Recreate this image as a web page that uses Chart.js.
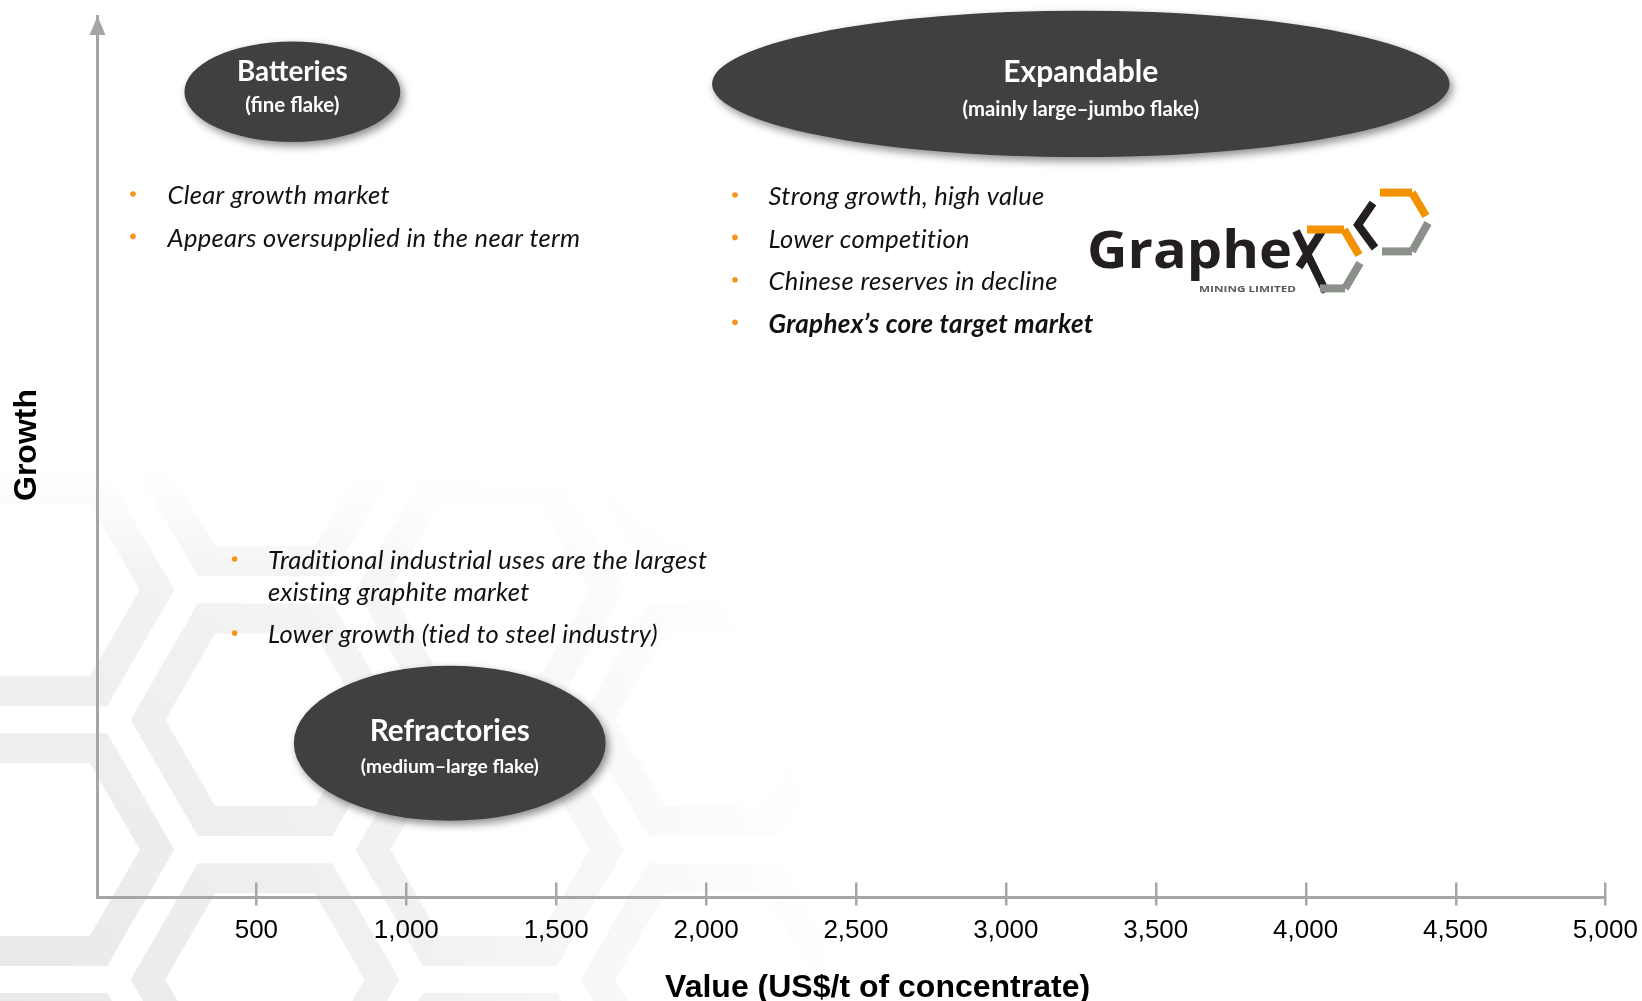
<!DOCTYPE html>
<html>
<head>
<meta charset="utf-8">
<title>Graphite markets: value vs growth</title>
<script src="https://cdn.jsdelivr.net/npm/chart.js@4/dist/chart.umd.min.js"></script>
<style>
  html, body { margin: 0; padding: 0; background: #ffffff; }
  #wrap { width: 1642px; height: 1001px; position: relative; }
</style>
</head>
<body>
<div id="wrap"><canvas id="chart" width="1642" height="1001"></canvas></div>
<script>
// ---- Data -------------------------------------------------------------
// Graphite end-markets positioned by value (US$/t of concentrate) and growth
const markets      = ['Batteries', 'Expandable', 'Refractories'];
const flakeTypes   = ['(fine flake)', '(mainly large\u2013jumbo flake)', '(medium\u2013large flake)'];
const valueLow     = [260, 2020, 625];
const valueHigh    = [980, 4480, 1665];
const growthLow    = [85.7, 84.0, 8.7];
const growthHigh   = [97.1, 100.6, 26.3];

const valueTicks      = [500, 1000, 1500, 2000, 2500, 3000, 3500, 4000, 4500, 5000];
const valueTickLabels = ['500', '1,000', '1,500', '2,000', '2,500', '3,000', '3,500', '4,000', '4,500', '5,000'];

const batteryNotes    = ['Clear growth market', 'Appears oversupplied in the near term'];
const expandableNotes = ['Strong growth, high value', 'Lower competition', 'Chinese reserves in decline', 'Graphex\u2019s core target market'];
const refractoryNotes = ['Traditional industrial uses are the largest\nexisting graphite market', 'Lower growth (tied to steel industry)'];

const xTitle = 'Value (US$/t of concentrate)';
const yTitle = 'Growth';

// ---- Styling / layout -------------------------------------------------
const AXIS_GREY   = '#a6a6a6';
const SHAPE_FILL  = '#404040';
const BULLET_ORNG = '#f7941d';
const NOTE_FONT   = 'italic 25.5px Lato';
const NOTE_BOLD   = 'italic bold 26px Lato';
const AXIS_FONT   = '"Liberation Sans", Arial, sans-serif';

// label offsets (px) from each shape centre, and font sizes
const shapeText = [
  { title: -20, sub: 14, tSize: 27.8, sSize: 20.4 },
  { title: -12, sub: 26, tSize: 30,   sSize: 20.3 },
  { title: -12, sub: 24, tSize: 29.7, sSize: 19.2 }
];

// note blocks: bullet x, text x, first line y, and which note is bold
const noteBlocks = [
  { notes: batteryNotes,    bx: 133,   tx: 167.5, y: 196,   bold: -1 },
  { notes: expandableNotes, bx: 735,   tx: 768.6, y: 197,   bold: 3 },
  { notes: refractoryNotes, bx: 234.6, tx: 268,   y: 561,   bold: -1 }
];
const NOTE_STEP = 42.4;
const LINE_STEP = 31.7;

// ---- Drawing helpers --------------------------------------------------
function hexPath(c, cx, cy, r) {
  c.beginPath();
  for (let k = 0; k < 6; k++) {
    const a = Math.PI / 3 * k;
    const px = cx + r * Math.cos(a), py = cy + r * Math.sin(a);
    if (k === 0) c.moveTo(px, py); else c.lineTo(px, py);
  }
  c.closePath();
}

// faint honeycomb watermark in the lower-left corner
function drawWatermark(ctx, W, H) {
  const off = document.createElement('canvas');
  off.width = W; off.height = H;
  const o = off.getContext('2d');
  o.strokeStyle = '#000';
  o.lineWidth = 30;
  o.lineJoin = 'miter';
  const R = 150, s3 = Math.sqrt(3);
  for (let i = -1; i < 8; i++) {
    for (let j = -1; j < 8; j++) {
      const cx = i * 1.5 * R + 40;
      const cy = j * s3 * R + (Math.abs(i) % 2 ? s3 / 2 * R : 0) + 330;
      hexPath(o, cx, cy, R * 0.78);
      o.stroke();
    }
  }
  o.globalCompositeOperation = 'destination-in';
  const g = o.createRadialGradient(0, H, 0, 0, H, 840);
  g.addColorStop(0, 'rgba(0,0,0,0.085)');
  g.addColorStop(0.5, 'rgba(0,0,0,0.055)');
  g.addColorStop(1, 'rgba(0,0,0,0)');
  o.fillStyle = g;
  o.fillRect(0, 0, W, H);
  // fade out above the lower half
  const v = o.createLinearGradient(0, 470, 0, 580);
  v.addColorStop(0, 'rgba(0,0,0,0)');
  v.addColorStop(1, 'rgba(0,0,0,1)');
  o.fillStyle = v;
  o.fillRect(0, 0, W, H);
  ctx.drawImage(off, 0, 0);
}

function seg(c, x1, y1, x2, y2, color) {
  c.strokeStyle = color;
  c.beginPath(); c.moveTo(x1, y1); c.lineTo(x2, y2); c.stroke();
}

function drawLogo(ctx) {
  ctx.save();
  ctx.fillStyle = '#231f20';
  ctx.font = '700 52px "Open Sans"';
  ctx.textBaseline = 'alphabetic';
  ctx.textAlign = 'left';
  const w = ctx.measureText('Graphe').width;
  ctx.save();
  ctx.translate(1087, 268);
  ctx.scale(205 / w, 1);
  ctx.fillText('Graphe', 0, 0);
  ctx.restore();

  ctx.lineWidth = 8;
  ctx.lineCap = 'butt';
  // letter x, whose long stroke becomes the left side of the first hexagon
  seg(ctx, 1296, 231, 1326, 292, '#231f20');
  seg(ctx, 1322, 231, 1299, 267, '#231f20');

  const OR = '#f39200', GR = '#8b918a', BK = '#231f20';
  // first hexagon
  seg(ctx, 1307, 229.6, 1344, 229.6, OR);
  seg(ctx, 1344, 229.6, 1359, 255, OR);
  seg(ctx, 1360, 263, 1345, 288.4, GR);
  seg(ctx, 1345, 288.4, 1320, 288.4, GR);
  // second hexagon
  seg(ctx, 1380, 192.6, 1412, 192.6, OR);
  seg(ctx, 1412, 192.6, 1426, 216, OR);
  seg(ctx, 1428, 223, 1412, 251.4, GR);
  seg(ctx, 1412, 251.4, 1382, 251.4, GR);
  ctx.lineJoin = 'miter';
  ctx.strokeStyle = BK;
  ctx.beginPath();
  ctx.moveTo(1373, 203); ctx.lineTo(1358, 225); ctx.lineTo(1375, 248);
  ctx.stroke();

  ctx.fillStyle = '#5a5a5a';
  ctx.font = 'bold 9.5px "Open Sans"';
  ctx.textBaseline = 'middle';
  const t = 'MINING LIMITED';
  const tw = ctx.measureText(t).width;
  ctx.save();
  ctx.translate(1199, 289.5);
  ctx.scale(97 / tw, 1);
  ctx.fillText(t, 0, 0);
  ctx.restore();
  ctx.restore();
}

// ---- Plugins ----------------------------------------------------------
const backdrop = {
  id: 'backdrop',
  beforeDraw(chart) {
    const { ctx, width, height } = chart;
    ctx.save();
    ctx.fillStyle = '#ffffff';
    ctx.fillRect(0, 0, width, height);
    drawWatermark(ctx, width, height);
    ctx.restore();
  }
};

const marketMap = {
  id: 'marketMap',
  afterDraw(chart) {
    const { ctx, chartArea, scales: { x, y } } = chart;
    const pts = chart.data.datasets[0].data;

    // value-axis tick marks straddling the axis line
    ctx.save();
    ctx.strokeStyle = AXIS_GREY;
    ctx.lineWidth = 2.5;
    valueTicks.forEach(v => {
      const px = Math.round(x.getPixelForValue(v)) + 0.25;
      ctx.beginPath();
      ctx.moveTo(px, chartArea.bottom - 15);
      ctx.lineTo(px, chartArea.bottom + 8);
      ctx.stroke();
    });
    // growth-axis arrow head
    const ax = chartArea.left;
    ctx.fillStyle = AXIS_GREY;
    ctx.beginPath();
    ctx.moveTo(ax, chartArea.top);
    ctx.lineTo(ax + 8, chartArea.top + 19);
    ctx.lineTo(ax - 8, chartArea.top + 19);
    ctx.closePath();
    ctx.fill();
    ctx.restore();

    // market ellipses
    pts.forEach((p, i) => {
      const x0 = x.getPixelForValue(p.xLow), x1 = x.getPixelForValue(p.xHigh);
      const y0 = y.getPixelForValue(p.yHigh), y1 = y.getPixelForValue(p.yLow);
      const cx = (x0 + x1) / 2, cy = (y0 + y1) / 2;
      const rx = (x1 - x0) / 2, ry = (y1 - y0) / 2;
      ctx.save();
      ctx.shadowColor = 'rgba(0,0,0,0.45)';
      ctx.shadowBlur = 9;
      ctx.shadowOffsetX = 3;
      ctx.shadowOffsetY = 4;
      ctx.beginPath();
      ctx.ellipse(cx, cy, rx, ry, 0, 0, Math.PI * 2);
      ctx.fillStyle = SHAPE_FILL;
      ctx.fill();
      ctx.restore();

      const st = shapeText[i];
      ctx.save();
      ctx.fillStyle = '#ffffff';
      ctx.textAlign = 'center';
      ctx.textBaseline = 'middle';
      ctx.font = `bold ${st.tSize}px Lato`;
      ctx.fillText(p.name, cx, cy + st.title);
      ctx.font = `bold ${st.sSize}px Lato`;
      ctx.fillText(p.sub, cx, cy + st.sub);
      ctx.restore();
    });

    // bullet notes
    ctx.save();
    ctx.textAlign = 'left';
    ctx.textBaseline = 'middle';
    ctx.letterSpacing = '0.3px';
    noteBlocks.forEach(b => {
      let yy = b.y;
      b.notes.forEach((note, k) => {
        ctx.fillStyle = BULLET_ORNG;
        ctx.beginPath();
        ctx.arc(b.bx, yy - 2, 2.8, 0, Math.PI * 2);
        ctx.fill();
        ctx.fillStyle = '#111111';
        ctx.font = k === b.bold ? NOTE_BOLD : NOTE_FONT;
        const lines = note.split('\n');
        lines.forEach((ln, li) => {
          ctx.fillText(ln, b.tx, yy + li * LINE_STEP);
        });
        yy += (lines.length - 1) * LINE_STEP + NOTE_STEP;
      });
    });
    ctx.restore();

    drawLogo(ctx);

    // axis titles
    ctx.save();
    ctx.fillStyle = '#000000';
    ctx.font = `bold 32px ${AXIS_FONT}`;
    ctx.textAlign = 'center';
    ctx.textBaseline = 'middle';
    ctx.fillText(xTitle, 877.6, 988);
    ctx.translate(27, 445);
    ctx.rotate(-Math.PI / 2);
    ctx.fillText(yTitle, 0, 0);
    ctx.restore();
  }
};

// ---- Chart ------------------------------------------------------------
const marketPoints = markets.map((m, i) => ({
  x: (valueLow[i] + valueHigh[i]) / 2,
  y: (growthLow[i] + growthHigh[i]) / 2,
  xLow: valueLow[i], xHigh: valueHigh[i],
  yLow: growthLow[i], yHigh: growthHigh[i],
  name: m, sub: flakeTypes[i]
}));

new Chart(document.getElementById('chart'), {
  type: 'scatter',
  data: {
    datasets: [{
      label: 'Graphite markets',
      data: marketPoints,
      pointRadius: 0,
      pointHoverRadius: 0,
      showLine: false
    }]
  },
  options: {
    responsive: false,
    animation: false,
    events: [],
    layout: { padding: { left: 0, top: 16, right: 36.6, bottom: 0 } },
    plugins: {
      legend: { display: false },
      tooltip: { enabled: false },
      title: { display: false }
    },
    scales: {
      x: {
        type: 'linear',
        position: 'bottom',
        min: -30,
        max: 5000,
        afterFit: s => { s.height = 103.5; s.paddingLeft = 0; s.paddingRight = 0; },
        afterBuildTicks: s => { s.ticks = valueTicks.map(v => ({ value: v })); },
        grid: { display: false, drawTicks: false },
        border: { display: true, color: AXIS_GREY, width: 3 },
        ticks: {
          autoSkip: false,
          maxRotation: 0,
          minRotation: 0,
          padding: 18,
          color: '#000000',
          font: { family: AXIS_FONT, size: 26 },
          callback: v => {
            const k = valueTicks.indexOf(v);
            return k >= 0 ? valueTickLabels[k] : '';
          }
        }
      },
      y: {
        type: 'linear',
        min: 0,
        max: 100,
        afterFit: s => { s.width = 97.5; },
        grid: { display: false, drawTicks: false },
        border: { display: true, color: AXIS_GREY, width: 3 },
        ticks: { display: false }
      }
    }
  },
  plugins: [backdrop, marketMap]
});
</script>
</body>
</html>
